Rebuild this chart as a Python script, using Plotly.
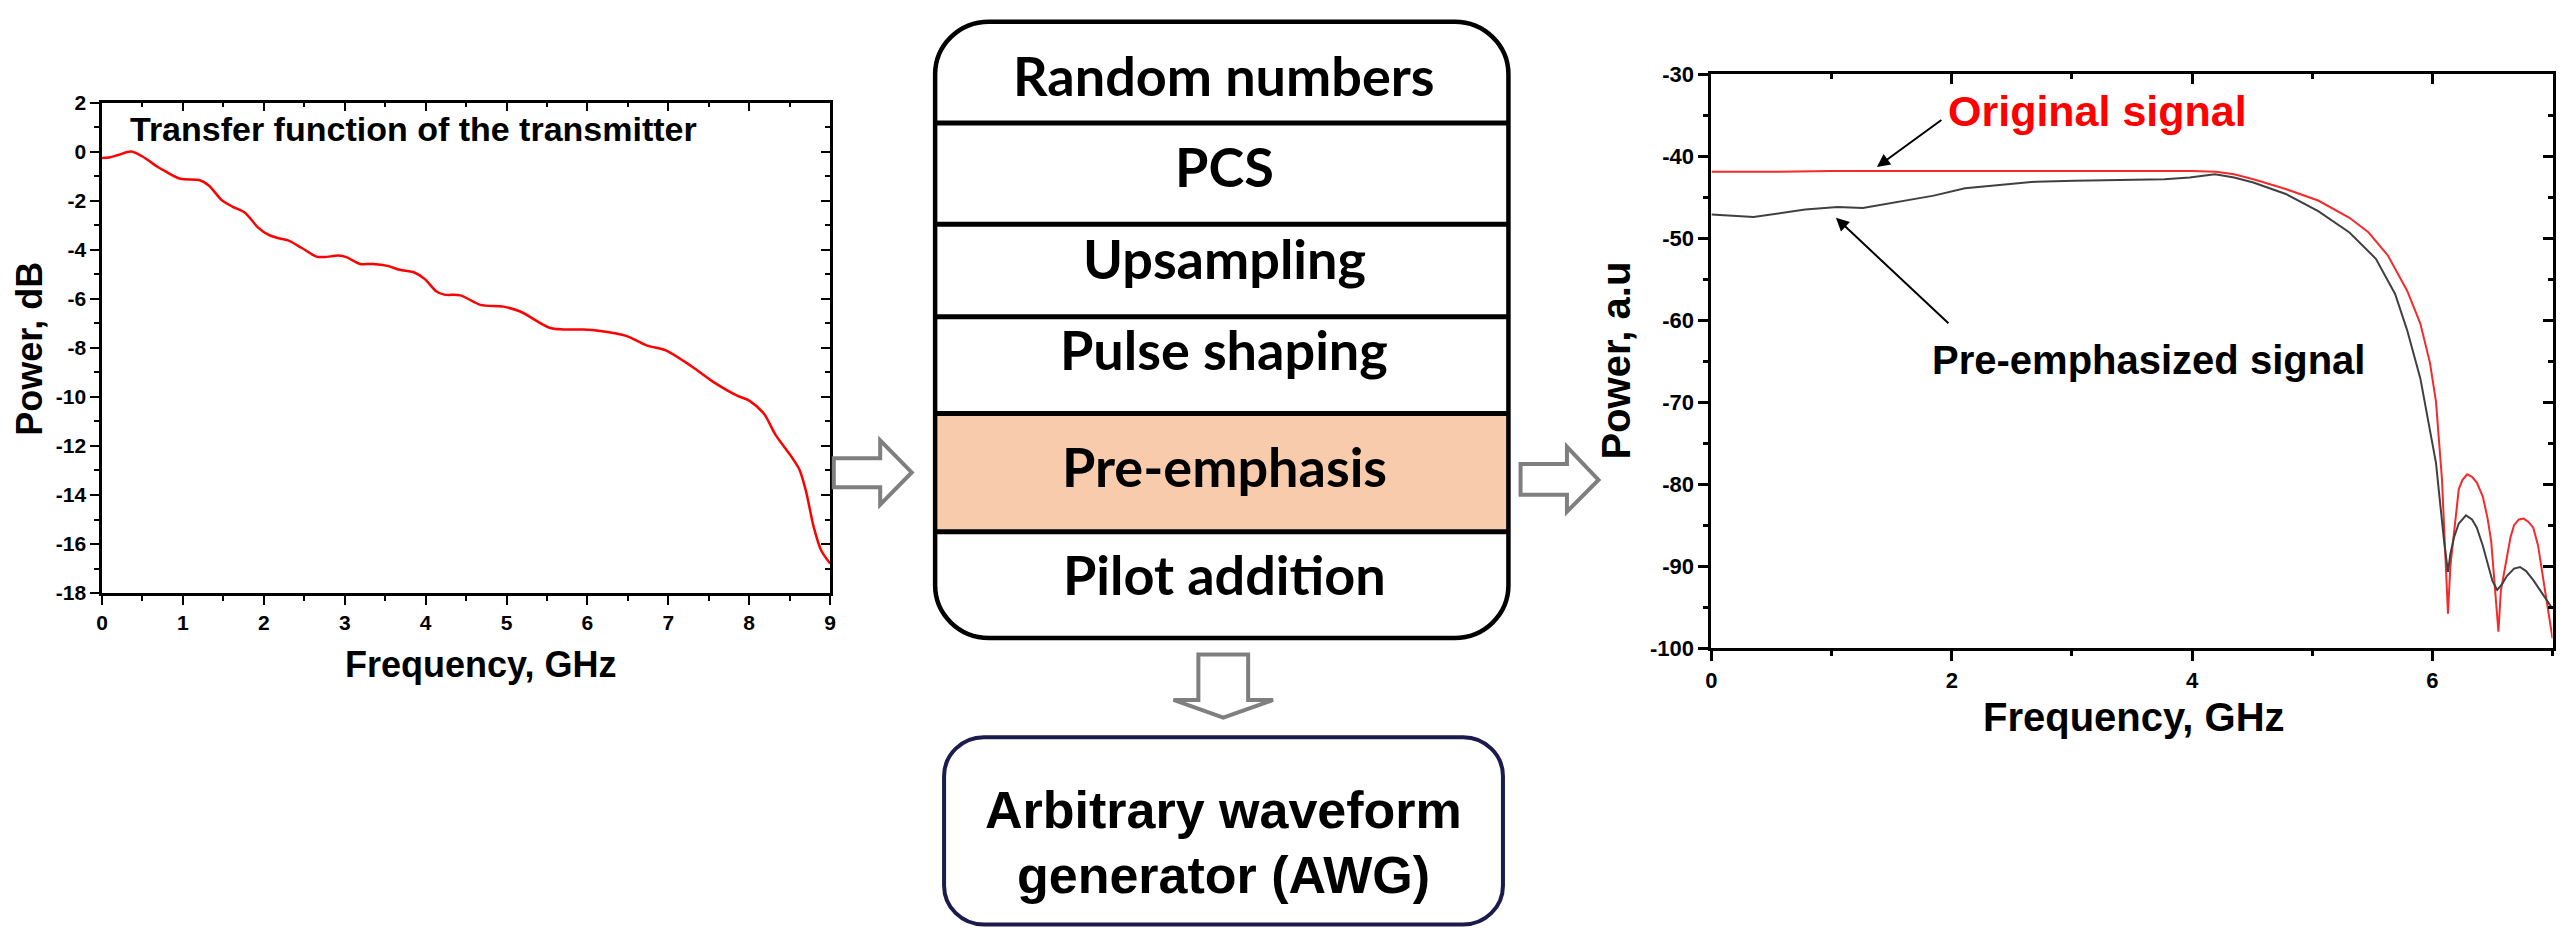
import plotly.graph_objects as go

W, H = 2560, 941

# ---------------- data: left chart (transfer function of the transmitter) ----------------
tf_freq = [0, 0.09, 0.20, 0.36, 0.50, 0.69, 0.79, 0.97, 1.20, 1.32, 1.48, 1.61, 1.77, 1.93,
           2.06, 2.18, 2.30, 2.47, 2.65, 2.75, 2.92, 3.02, 3.19, 3.35, 3.53, 3.68, 3.86, 3.99,
           4.13, 4.23, 4.43, 4.68, 4.96, 5.17, 5.53, 5.70, 5.95, 6.16, 6.48, 6.73, 6.97, 7.29,
           7.57, 7.85, 8.00, 8.18, 8.33, 8.52, 8.62, 8.70, 8.80, 8.89, 9.0]
tf_power = [-0.26, -0.24, -0.14, 0.0, -0.2, -0.63, -0.82, -1.11, -1.16, -1.38, -1.98, -2.24,
            -2.5, -3.1, -3.4, -3.53, -3.62, -3.93, -4.28, -4.3, -4.24, -4.3, -4.58, -4.58,
            -4.66, -4.82, -4.93, -5.2, -5.69, -5.83, -5.86, -6.25, -6.32, -6.52, -7.18, -7.25,
            -7.25, -7.31, -7.51, -7.90, -8.1, -8.76, -9.42, -9.95, -10.15, -10.68, -11.57,
            -12.43, -12.96, -13.82, -15.34, -16.26, -16.79]

# ---------------- data: right chart (spectra) ----------------
orig_freq = [0, 0.5, 1.0, 1.5, 2.0, 2.5, 3.0, 3.5, 4.0, 4.2, 4.35, 4.51, 4.78, 5.05, 5.31,
             5.47, 5.63, 5.79, 5.90, 5.98, 6.03, 6.08, 6.13, 6.15, 6.17, 6.20, 6.22, 6.25,
             6.29, 6.33, 6.37, 6.42, 6.46, 6.49, 6.51, 6.53, 6.55, 6.57, 6.61, 6.65, 6.68,
             6.72, 6.76, 6.80, 6.84, 6.88, 6.92, 6.96, 7.0]
orig_power = [-41.9, -41.9, -41.8, -41.8, -41.8, -41.8, -41.8, -41.8, -41.8, -41.9, -42.2,
              -42.8, -44.0, -45.4, -47.5, -49.3, -52.1, -56.4, -60.4, -65.2, -69.9, -79.4,
              -95.8, -90.0, -87.3, -82.5, -80.6, -79.5, -78.8, -79.1, -79.8, -81.5, -84.2,
              -87.0, -90.5, -94.0, -98.0, -93.0, -89.7, -86.5, -85.0, -84.3, -84.2, -84.6,
              -85.3, -87.5, -91.3, -95.0, -98.8]
emph_freq = [0, 0.35, 0.78, 1.05, 1.26, 1.53, 1.85, 2.11, 2.38, 2.70, 3.02, 3.34, 3.77, 3.98,
             4.19, 4.35, 4.51, 4.78, 5.05, 5.31, 5.53, 5.69, 5.79, 5.90, 6.03, 6.10, 6.13,
             6.15, 6.18, 6.22, 6.28, 6.33, 6.37, 6.42, 6.46, 6.50, 6.54, 6.58, 6.62, 6.68,
             6.73, 6.78, 6.84, 6.92, 7.0]
emph_power = [-47.1, -47.4, -46.5, -46.2, -46.3, -45.6, -44.8, -43.9, -43.5, -43.1, -43.0,
              -42.9, -42.8, -42.6, -42.2, -42.6, -43.2, -44.6, -46.7, -49.3, -52.5, -56.8,
              -61.2, -67.1, -77.4, -87.3, -90.7, -88.5, -86.5, -84.8, -83.8, -84.3, -85.3,
              -87.5, -89.7, -91.8, -92.9, -92.2, -91.2, -90.3, -90.1, -90.6, -91.7, -93.5,
              -95.2]

# ---------------- text ----------------
block_steps = ["Random numbers", "PCS", "Upsampling", "Pulse shaping", "Pre-emphasis", "Pilot addition"]
awg_lines = ["Arbitrary waveform", "generator (AWG)"]
left_title = "Transfer function of the transmitter"
left_xlabel = "Frequency, GHz"
left_ylabel = "Power, dB"
right_xlabel = "Frequency, GHz"
right_ylabel = "Power, a.u"
label_orig = "Original signal"
label_emph = "Pre-emphasized signal"
left_xticks = list(range(0, 10))
left_yticks = list(range(-18, 3, 2))
right_xticks = [0, 2, 4, 6]
right_yticks = list(range(-100, -29, 10))


def px(x):
    return x / W


def py(y):
    return 1 - y / H


def bold_labels(vals):
    return ["<b>%d</b>" % v for v in vals]


ARIAL = "Liberation Sans, Arial, sans-serif"
CAL = "Lato, Open Sans, sans-serif"

# pixel layout of the two plot areas
LX0, LX1, LY0, LY1 = 96.5, 828, 93, 597
RX0, RX1, RY0, RY1 = 1713.5, 2558.5, 64, 653.5

fig = go.Figure()
fig.add_trace(go.Scatter(x=tf_freq, y=tf_power, mode="lines", xaxis="x", yaxis="y",
                         line=dict(color="#FF0000", width=2.5, shape="spline", smoothing=0.8),
                         hoverinfo="skip", showlegend=False))
fig.add_trace(go.Scatter(x=[tf_freq[0]], y=[tf_power[0]], mode="markers", xaxis="x3", yaxis="y3",
                         marker=dict(opacity=0), hoverinfo="skip", showlegend=False))
fig.add_trace(go.Scatter(x=orig_freq, y=orig_power, mode="lines", xaxis="x2", yaxis="y2",
                         line=dict(color="#F52A2A", width=2), hoverinfo="skip", showlegend=False))
fig.add_trace(go.Scatter(x=emph_freq, y=emph_power, mode="lines", xaxis="x2", yaxis="y2",
                         line=dict(color="#404040", width=2), hoverinfo="skip", showlegend=False))
fig.add_trace(go.Scatter(x=[orig_freq[0]], y=[orig_power[0]], mode="markers", xaxis="x4", yaxis="y4",
                         marker=dict(opacity=0), hoverinfo="skip", showlegend=False))


def base_axis(size=20, **kw):
    d = dict(showgrid=False, zeroline=False, showline=True, linecolor="black",
             tickcolor="black", fixedrange=True,
             tickfont=dict(family=ARIAL, size=size, color="black"))
    d.update(kw)
    return d


fig.update_layout(
    width=W, height=H, margin=dict(l=0, r=0, t=0, b=0),
    paper_bgcolor="white", plot_bgcolor="white", showlegend=False,
    xaxis=base_axis(size=21, domain=[px(LX0), px(LX1)], range=[0, 9], anchor="y",
                    tickmode="array", tickvals=left_xticks, ticktext=bold_labels(left_xticks),
                    ticks="outside", ticklen=9, tickwidth=2,
                    linewidth=2.5, minor=dict(ticks="outside", ticklen=5, tickwidth=2, dtick=0.5, tick0=0)),
    yaxis=base_axis(size=21, domain=[py(LY1), py(LY0)], range=[-18, 2], anchor="x",
                    tickmode="array", tickvals=left_yticks, ticktext=bold_labels(left_yticks),
                    ticks="outside", ticklen=9, tickwidth=2,
                    linewidth=2.5, minor=dict(ticks="outside", ticklen=5, tickwidth=2, dtick=1, tick0=0)),
    xaxis3=base_axis(overlaying="x", side="top", anchor="y", range=[0, 9], showticklabels=False,
                     tickmode="array", tickvals=left_xticks, ticks="inside", ticklen=9, tickwidth=2,
                     linewidth=2.5, minor=dict(ticks="inside", ticklen=5, tickwidth=2, dtick=0.5, tick0=0)),
    yaxis3=base_axis(overlaying="y", side="right", anchor="x", range=[-18, 2], showticklabels=False,
                     tickmode="array", tickvals=left_yticks, ticks="inside", ticklen=9, tickwidth=2,
                     linewidth=2.5, minor=dict(ticks="inside", ticklen=5, tickwidth=2, dtick=1, tick0=0)),
    xaxis2=base_axis(size=22, domain=[px(RX0), px(RX1)], range=[0, 7], anchor="y2",
                     tickmode="array", tickvals=right_xticks, ticktext=bold_labels(right_xticks),
                     ticks="outside", ticklen=10, tickwidth=2.5,
                     linewidth=3, minor=dict(ticks="outside", ticklen=5, tickwidth=2.5, dtick=1, tick0=0)),
    yaxis2=base_axis(size=22, domain=[py(RY1), py(RY0)], range=[-100, -30], anchor="x2",
                     tickmode="array", tickvals=right_yticks, ticktext=bold_labels(right_yticks),
                     ticks="outside", ticklen=10, tickwidth=2.5,
                     linewidth=3, minor=dict(ticks="outside", ticklen=5, tickwidth=2.5, dtick=5, tick0=0)),
    xaxis4=base_axis(overlaying="x2", side="top", anchor="y2", range=[0, 7], showticklabels=False,
                     tickmode="array", tickvals=right_xticks, ticks="inside", ticklen=10, tickwidth=2.5,
                     linewidth=3, minor=dict(ticks="inside", ticklen=5, tickwidth=2.5, dtick=1, tick0=0)),
    yaxis4=base_axis(overlaying="y2", side="right", anchor="x2", range=[-100, -30], showticklabels=False,
                     tickmode="array", tickvals=right_yticks, ticks="inside", ticklen=10, tickwidth=2.5,
                     linewidth=3, minor=dict(ticks="inside", ticklen=5, tickwidth=2.5, dtick=5, tick0=0)),
)


def path_from(points_cmds):
    out = []
    for item in points_cmds:
        if isinstance(item, str):
            out.append(item)
        else:
            out.append("%.5f,%.5f" % (px(item[0]), py(item[1])))
    return " ".join(out)


def rrect_path(x0, y0, x1, y1, r):
    k = 0.5523 * r
    cmds = ["M", (x0 + r, y0), "L", (x1 - r, y0),
            "C", (x1 - r + k, y0), (x1, y0 + r - k), (x1, y0 + r),
            "L", (x1, y1 - r),
            "C", (x1, y1 - r + k), (x1 - r + k, y1), (x1 - r, y1),
            "L", (x0 + r, y1),
            "C", (x0 + r - k, y1), (x0, y1 - r + k), (x0, y1 - r),
            "L", (x0, y0 + r),
            "C", (x0, y0 + r - k), (x0 + r - k, y0), (x0 + r, y0), "Z"]
    return path_from(cmds)


def poly_path(pts):
    cmds = ["M", pts[0]]
    for p in pts[1:]:
        cmds += ["L", p]
    cmds.append("Z")
    return path_from(cmds)


shapes = []
# middle block
BX0, BX1, BY0, BY1 = 933.5, 1509.5, 10, 643
dividers = [114, 218, 313, 412.5, 534]
shapes.append(dict(type="rect", xref="paper", yref="paper", x0=px(BX0), x1=px(BX1),
                   y0=py(534), y1=py(412.5), fillcolor="#F8CBAD", line=dict(width=0), layer="below"))
for yv in dividers:
    shapes.append(dict(type="line", xref="paper", yref="paper", x0=px(BX0), x1=px(BX1),
                       y0=py(yv), y1=py(yv), line=dict(color="black", width=5)))
shapes.append(dict(type="path", xref="paper", yref="paper", path=rrect_path(BX0, BY0, BX1, BY1, 54),
                   line=dict(color="black", width=4.5)))
# AWG box
shapes.append(dict(type="path", xref="paper", yref="paper", path=rrect_path(942.5, 745, 1504, 937.5, 40),
                   line=dict(color="#1B1B4D", width=4)))
# block arrows
grey = "#7F7F7F"
arrow_left = [(831.7, 458.3), (878.3, 458.3), (878.3, 440), (910, 473), (878.3, 506),
              (878.3, 488.3), (831.7, 488.3)]
arrow_right = [(1521.7, 464.3), (1568.3, 464.3), (1568.3, 446.7), (1600, 480.7), (1568.3, 513.3),
               (1568.3, 496), (1521.7, 496)]
arrow_down = [(1198, 660), (1248, 660), (1248, 706.7), (1273, 706.7), (1223, 725), (1173, 706.7),
              (1198, 706.7)]
for pts in (arrow_left, arrow_right, arrow_down):
    shapes.append(dict(type="path", xref="paper", yref="paper", path=poly_path(pts),
                       fillcolor="white", line=dict(color=grey, width=4)))
fig.update_layout(shapes=shapes)

ann = []


def text_ann(text, x, y, size, family=ARIAL, color="black", angle=0, xanchor="center"):
    ann.append(dict(text=text, x=px(x), y=py(y), xref="paper", yref="paper", showarrow=False,
                    xanchor=xanchor, yanchor="middle", textangle=angle,
                    font=dict(family=family, size=size, color=color, weight="bold")))


text_ann(left_title, 122.3, 120, 34, xanchor="left")
text_ann(left_xlabel, 476.5, 670, 36)
text_ann(left_ylabel, 24, 346, 36, angle=-90)
text_ann(right_xlabel, 2137.6, 724, 40)
text_ann(right_ylabel, 1617.6, 358, 40, angle=-90)
text_ann(label_orig, 2101, 102, 43, color="#FF0000")
text_ann(label_emph, 2153, 357, 40)

step_y = [65, 159, 253, 347, 467, 578]
for name, yv in zip(block_steps, step_y):
    text_ann(name, 1224, yv, 54, family=CAL)

for line, yv in zip(awg_lines, [820, 887]):
    text_ann(line, 1223.5, yv, 52)

# pointer arrows on right chart
ann.append(dict(text="", x=1.377, y=-41.3, xref="x2", yref="y2", ax=66, ay=-48,
                showarrow=True, arrowhead=2, arrowsize=1.3, arrowwidth=2, arrowcolor="black"))
ann.append(dict(text="", x=1.036, y=-47.5, xref="x2", yref="y2", ax=114, ay=107,
                showarrow=True, arrowhead=2, arrowsize=1.3, arrowwidth=2, arrowcolor="black"))

fig.update_layout(annotations=ann)

fig.write_html("out.html", config={"displayModeBar": False},
               post_script="document.body.style.margin='0';document.body.style.overflow='hidden';")
